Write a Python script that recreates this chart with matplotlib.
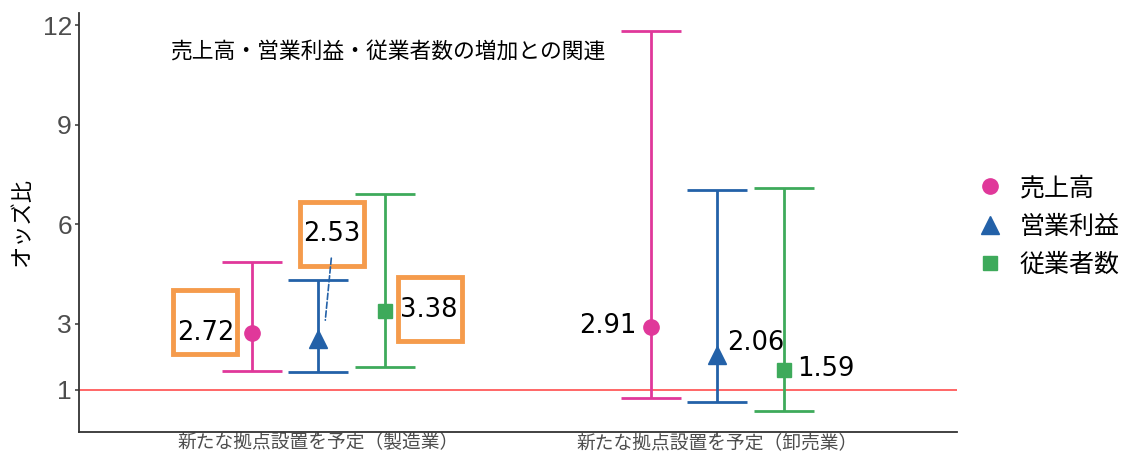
import matplotlib.pyplot as plt
from matplotlib.lines import Line2D
from matplotlib.transforms import offset_copy

plt.rcParams['font.family'] = ['Noto Sans CJK JP', 'DejaVu Sans']

groups = ['新たな拠点設置を予定（製造業）', '新たな拠点設置を予定（卸売業）']
series = ['売上高', '営業利益', '従業者数']

odds = {
    '売上高': [2.72, 2.91],
    '営業利益': [2.53, 2.06],
    '従業者数': [3.38, 1.59],
}
ci_low = {
    '売上高': [1.56, 0.75],
    '営業利益': [1.53, 0.63],
    '従業者数': [1.68, 0.36],
}
ci_high = {
    '売上高': [4.86, 11.82],
    '営業利益': [4.32, 7.02],
    '従業者数': [6.90, 7.08],
}

colors = {'売上高': '#E0389A', '営業利益': '#2361A8', '従業者数': '#3EAA5B'}
markers = {'売上高': ('o', 11), '営業利益': ('^', 13), '従業者数': ('s', 10)}
dodge = {'売上高': -0.167, '営業利益': 0.0, '従業者数': 0.167}

# label offsets in pixels: (text dx, text dy, box dx, box dy, boxed)
label_pos = {
    ('売上高', 0): (-46, 0, -47, 11, True),
    ('営業利益', 0): (14, 105, 14, 105, True),
    ('従業者数', 0): (44, 1, 45, 2, True),
    ('売上高', 1): (-14, 1, 0, 0, False),
    ('営業利益', 1): (10, 12, 0, 0, False),
    ('従業者数', 1): (13, 1, 0, 0, False),
}

fig = plt.figure(figsize=(11.31, 4.53), dpi=100)
ax = fig.add_axes([0.0698, 0.0464, 0.776, 0.925])

ax.axhline(1, color='#FF4D4D', lw=1.2, zorder=1)

for s in series:
    xs = [i + 1 + dodge[s] for i in range(len(groups))]
    ys = odds[s]
    err = [[y - lo for y, lo in zip(ys, ci_low[s])],
           [hi - y for y, hi in zip(ys, ci_high[s])]]
    m, ms = markers[s]
    ax.errorbar(xs, ys, yerr=err, fmt=m, ms=ms, color=colors[s],
                elinewidth=2, capsize=21.5, capthick=2, zorder=3)

    for i, (x, y) in enumerate(zip(xs, ys)):
        tdx, tdy, bdx, bdy, boxed = label_pos[(s, i)]
        if boxed:
            ha = 'center'
        elif tdx < 0:
            ha = 'right'
        else:
            ha = 'left'
        ax.text(x, y, f'{y:.2f}', fontsize=18.5, family='DejaVu Sans',
                ha=ha, va='center', zorder=5,
                transform=offset_copy(ax.transData, fig, x=tdx, y=tdy, units='dots'))
        if boxed:
            ax.plot([x], [y], marker='s', ms=46, mfc='white', mec='#F59B4C',
                    mew=3.5, zorder=4, clip_on=False,
                    transform=offset_copy(ax.transData, fig, x=bdx, y=bdy, units='dots'))

# dashed leader from the triangle to its boxed label
x_op, y_op = 1 + dodge['営業利益'], odds['営業利益'][0]
ax.annotate('', xy=(x_op, y_op),
            xycoords=offset_copy(ax.transData, fig, x=7, y=19, units='dots'),
            xytext=(x_op, y_op),
            textcoords=offset_copy(ax.transData, fig, x=13, y=81, units='dots'),
            arrowprops=dict(arrowstyle='-', linestyle='--', color='#2361A8',
                            lw=1.2, shrinkA=0, shrinkB=0), zorder=4)

ax.text(0.104, 0.905, '売上高・営業利益・従業者数の増加との関連',
        transform=ax.transAxes, fontsize=15.7, ha='left', va='center')

ax.set_xlim(0.4, 2.6)
ax.set_ylim(-0.27, 12.37)
ax.set_xticks([1, 2])
ax.set_xticklabels(groups, fontsize=13.5, color='#4D4D4D')
ax.set_yticks([1, 3, 6, 9, 12])
ax.set_yticklabels(['1', '3', '6', '9', '12'], fontsize=19, color='#4D4D4D',
                   family='Liberation Sans')
ax.set_ylabel('オッズ比', fontsize=16, labelpad=7)

for side in ['top', 'right']:
    ax.spines[side].set_visible(False)
for side in ['left', 'bottom']:
    ax.spines[side].set_color('#333333')
    ax.spines[side].set_linewidth(1.3)
ax.tick_params(axis='both', length=3, color='#333333', width=1.1, pad=2)
ax.tick_params(axis='x', pad=-3)

handles = [Line2D([], [], linestyle='', marker=markers[s][0],
                  ms=markers[s][1], color=colors[s], label=s) for s in series]
ax.legend(handles=handles, loc='center left', bbox_to_anchor=(1.012, 0.49),
          frameon=False, fontsize=18, handlelength=1.0, handletextpad=0.7,
          labelspacing=0.5, borderaxespad=0)

fig.savefig('out.png', dpi=100)
